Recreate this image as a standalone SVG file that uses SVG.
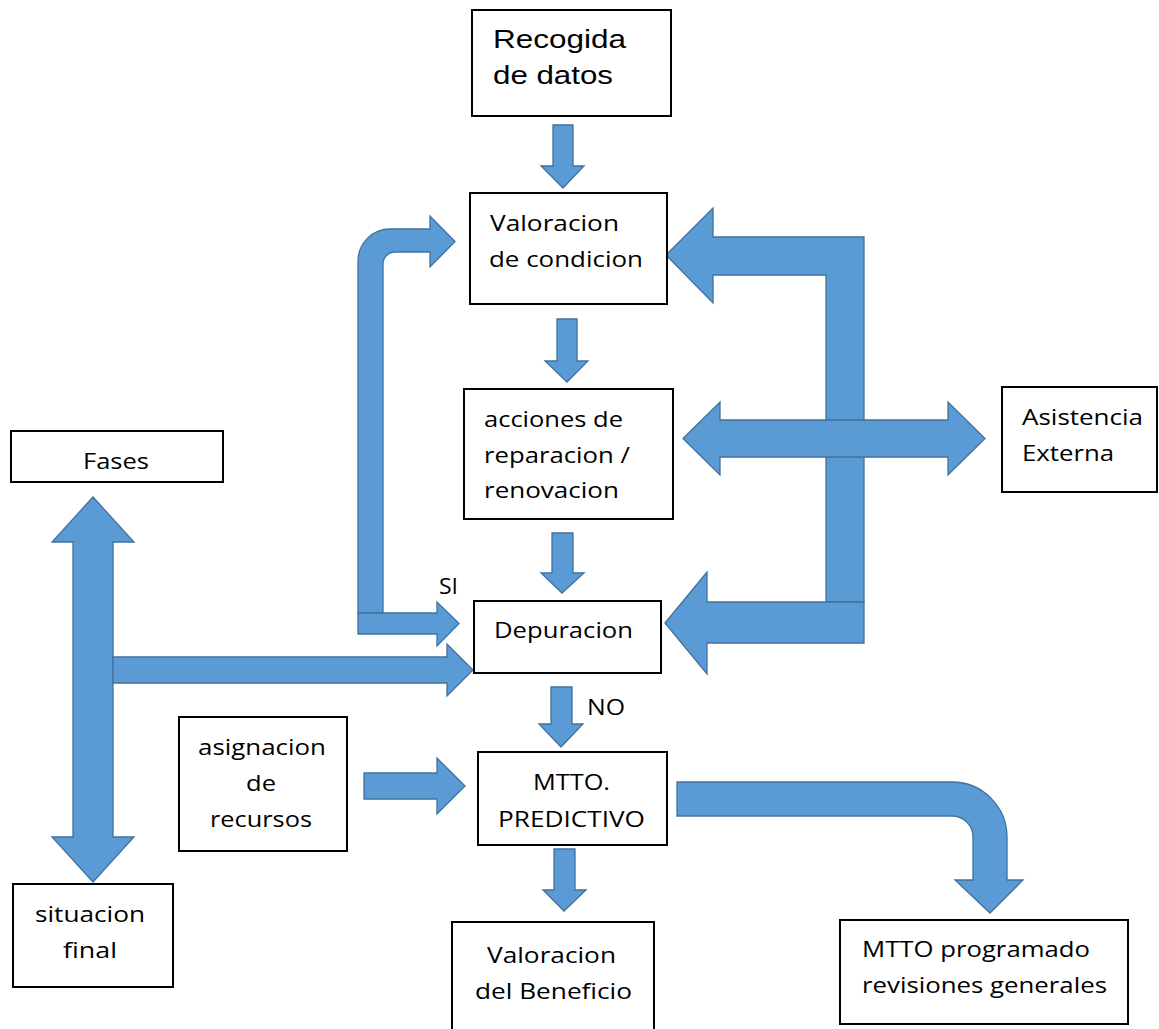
<svg xmlns="http://www.w3.org/2000/svg" width="1159" height="1029" viewBox="0 0 1159 1029">
  <style>
    .box { fill: #ffffff; stroke: #000000; stroke-width: 2; }
    .arrow { fill: #5B9BD5; stroke: #41719C; stroke-width: 1.3; stroke-linejoin: miter; }
    .lbl { font-family: "Open Sans", "Liberation Sans", sans-serif; font-size: 22px; fill: #000000; }
    .arial { font-family: "Liberation Sans", Arial, sans-serif; font-size: 25px; fill: #000000; }
  </style>
  <rect width="1159" height="1029" fill="#ffffff"/>

  <!-- block arrows -->
  <g id="connectors">
    <!-- Fases double vertical arrow -->
    <path class="arrow" d="M93,497 L134,542 L113,542 L113,837 L134,837 L93,882 L52,837 L73,837 L73,542 L52,542 Z"/>
    <!-- Fases branch to Depuracion -->
    <path class="arrow" d="M113,657 L447,657 L447,644 L473,670 L447,696 L447,683 L113,683 Z"/>
    <!-- SI loop back to Valoracion de condicion -->
    <path class="arrow" d="M358,613 L358,261 A32,32 0 0 1 390,229 L430,229 L430,216 L455,241.5 L430,267 L430,252 L395,252 A12,12 0 0 0 383,264 L383,613 Z"/>
    <path class="arrow" d="M358,613 L437,613 L437,602 L459,623.5 L437,646 L437,634 L358,634 Z"/>
    <!-- Recogida -> Valoracion -->
    <path class="arrow" d="M553,125 L573,125 L573,166 L584,166 L563,188 L541,166 L553,166 Z"/>
    <!-- Valoracion -> acciones -->
    <path class="arrow" d="M557,319 L577,319 L577,361 L588,361 L567,382 L545,361 L557,361 Z"/>
    <!-- acciones -> Depuracion -->
    <path class="arrow" d="M552,533 L573,533 L573,573 L584,573 L562,593 L541,573 L552,573 Z"/>
    <!-- Depuracion -> MTTO (NO) -->
    <path class="arrow" d="M551,687 L572,687 L572,724 L583,724 L561,747 L539,724 L551,724 Z"/>
    <!-- MTTO -> Valoracion del Beneficio -->
    <path class="arrow" d="M554,849 L575,849 L575,890 L586,890 L564,911 L543,890 L554,890 Z"/>
    <!-- asignacion -> MTTO -->
    <path class="arrow" d="M364,773 L437,773 L437,758 L465,786 L437,814 L437,799 L364,799 Z"/>
    <!-- feedback into Valoracion de condicion -->
    <path class="arrow" d="M666,255 L713,208 L713,237 L864,237 L864,602 L826,602 L826,275 L713,275 L713,303 Z"/>
    <!-- feedback into Depuracion -->
    <path class="arrow" d="M665,623 L707,572 L707,602 L864,602 L864,643 L707,643 L707,674 Z"/>
    <!-- acciones <-> Asistencia Externa -->
    <path class="arrow" d="M683,438.5 L720,402 L720,420 L948,420 L948,402 L985,438.5 L948,475 L948,457 L720,457 L720,475 Z"/>
    <!-- MTTO -> MTTO programado -->
    <path class="arrow" d="M677,782 L952,782 A55,55 0 0 1 1007,837 L1007,880 L1023,880 L990,913 L955,880 L973,880 L973,837 A21,21 0 0 0 952,816 L677,816 Z"/>
  </g>

  <g id="recogida">
    <rect class="box" x="472" y="10" width="199" height="106"/>
    <text class="arial" x="493" y="48" textLength="133" lengthAdjust="spacingAndGlyphs">Recogida</text>
    <text class="arial" x="493" y="84" textLength="120" lengthAdjust="spacingAndGlyphs">de datos</text>
  </g>

  <g id="valoracion-condicion">
    <rect class="box" x="470" y="193" width="197" height="111"/>
    <text class="lbl" x="490" y="231" textLength="129" lengthAdjust="spacingAndGlyphs">Valoracion</text>
    <text class="lbl" x="489" y="267" textLength="154" lengthAdjust="spacingAndGlyphs">de condicion</text>
  </g>

  <g id="acciones">
    <rect class="box" x="464" y="389" width="209" height="130"/>
    <text class="lbl" x="484" y="427" textLength="139" lengthAdjust="spacingAndGlyphs">acciones de</text>
    <text class="lbl" x="484" y="463" textLength="146" lengthAdjust="spacingAndGlyphs">reparacion /</text>
    <text class="lbl" x="484" y="498" textLength="135" lengthAdjust="spacingAndGlyphs">renovacion</text>
  </g>

  <g id="depuracion">
    <rect class="box" x="474" y="601" width="187" height="72"/>
    <text class="lbl" x="494" y="638" textLength="139" lengthAdjust="spacingAndGlyphs">Depuracion</text>
  </g>

  <g id="label-si">
    <text class="lbl" x="439" y="594" textLength="19" lengthAdjust="spacingAndGlyphs">SI</text>
  </g>

  <g id="label-no">
    <text class="lbl" x="587" y="715" textLength="38" lengthAdjust="spacingAndGlyphs">NO</text>
  </g>

  <g id="asistencia">
    <rect class="box" x="1002" y="387" width="155" height="105"/>
    <text class="lbl" x="1022" y="425" textLength="121" lengthAdjust="spacingAndGlyphs">Asistencia</text>
    <text class="lbl" x="1022" y="461" textLength="92" lengthAdjust="spacingAndGlyphs">Externa</text>
  </g>

  <g id="fases">
    <rect class="box" x="11" y="431" width="212" height="51"/>
    <text class="lbl" x="83" y="469" textLength="66" lengthAdjust="spacingAndGlyphs">Fases</text>
  </g>

  <g id="situacion-final">
    <rect class="box" x="13" y="884" width="160" height="103"/>
    <text class="lbl" x="35" y="922" textLength="110" lengthAdjust="spacingAndGlyphs">situacion</text>
    <text class="lbl" x="63" y="958" textLength="54" lengthAdjust="spacingAndGlyphs">final</text>
  </g>

  <g id="asignacion">
    <rect class="box" x="179" y="717" width="168" height="134"/>
    <text class="lbl" x="198" y="755" textLength="128" lengthAdjust="spacingAndGlyphs">asignacion</text>
    <text class="lbl" x="246" y="791" textLength="30" lengthAdjust="spacingAndGlyphs">de</text>
    <text class="lbl" x="210" y="827" textLength="102" lengthAdjust="spacingAndGlyphs">recursos</text>
  </g>

  <g id="mtto-predictivo">
    <rect class="box" x="478" y="752" width="189" height="93"/>
    <text class="lbl" x="533" y="790" textLength="77" lengthAdjust="spacingAndGlyphs">MTTO.</text>
    <text class="lbl" x="498" y="827" textLength="147" lengthAdjust="spacingAndGlyphs">PREDICTIVO</text>
  </g>

  <g id="valoracion-beneficio">
    <rect class="box" x="452" y="922" width="202" height="120"/>
    <text class="lbl" x="487" y="963" textLength="129" lengthAdjust="spacingAndGlyphs">Valoracion</text>
    <text class="lbl" x="475" y="999" textLength="157" lengthAdjust="spacingAndGlyphs">del Beneficio</text>
  </g>

  <g id="mtto-programado">
    <rect class="box" x="840" y="920" width="288" height="104"/>
    <text class="lbl" x="862" y="957" textLength="228" lengthAdjust="spacingAndGlyphs">MTTO programado</text>
    <text class="lbl" x="862" y="993" textLength="245" lengthAdjust="spacingAndGlyphs">revisiones generales</text>
  </g>
</svg>
